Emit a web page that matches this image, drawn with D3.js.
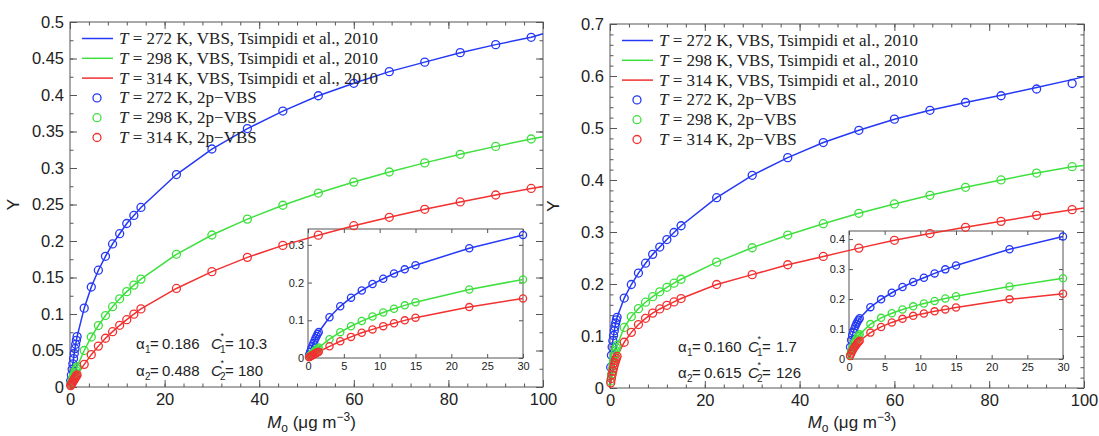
<!DOCTYPE html>
<html>
<head>
<meta charset="utf-8">
<script src="https://cdn.jsdelivr.net/npm/d3@7"></script>
<style>
  body { margin: 0; background: #fff; }
  svg text { fill: #222; }
</style>
</head>
<body>
<svg id="chart" width="1099" height="436"></svg>
<script>
// organic aerosol mass (µg m^-3) where the 2p-VBS points sit
const moPts = [0.15, 0.3, 0.45, 0.6, 0.75, 0.9, 1.05, 1.2, 1.35, 1.5,
  3, 4.5, 6, 7.5, 9, 10.5, 12, 13.5, 15,
  22.5, 30, 37.5, 45, 52.5, 60, 67.5, 75, 82.5, 90, 97.5];
// grid of the VBS (Tsimpidi) curves
const moLine = [0, 0.15, 0.3, 0.45, 0.6, 0.75, 0.9, 1.05, 1.2, 1.35, 1.5,
  3, 4.5, 6, 7.5, 9, 10.5, 12, 13.5, 15,
  22.5, 30, 37.5, 45, 52.5, 60, 67.5, 75, 82.5, 90, 97.5, 100];

// left panel
const ptsA272 = [0.0085, 0.0165, 0.0243, 0.0317, 0.039, 0.046, 0.0525, 0.0585, 0.064, 0.069,
  0.108, 0.137, 0.16, 0.179, 0.196, 0.21, 0.224, 0.235, 0.246,
  0.291, 0.326, 0.354, 0.378, 0.399, 0.416, 0.432, 0.445, 0.458, 0.469, 0.479];
const ptsA298 = [0.0031, 0.0061, 0.009, 0.0119, 0.0147, 0.0174, 0.02, 0.0227, 0.0252, 0.0277,
  0.05, 0.0685, 0.0842, 0.0979, 0.11, 0.1208, 0.1306, 0.1396, 0.1478,
  0.1818, 0.2082, 0.23, 0.249, 0.2657, 0.2807, 0.2945, 0.307, 0.3188, 0.3296, 0.3397];
const ptsA314 = [0.0019, 0.0037, 0.0054, 0.0071, 0.0088, 0.0104, 0.012, 0.0136, 0.0151, 0.0166,
  0.031, 0.0443, 0.056, 0.0668, 0.0758, 0.0845, 0.0922, 0.0998, 0.107,
  0.135, 0.158, 0.1776, 0.194, 0.208, 0.221, 0.2325, 0.2434, 0.2535, 0.263, 0.272];
const lineA272 = [0, 0.0085, 0.0165, 0.0243, 0.0317, 0.039, 0.046, 0.0525, 0.0585, 0.064, 0.069,
  0.108, 0.137, 0.16, 0.179, 0.196, 0.21, 0.224, 0.235, 0.246,
  0.291, 0.326, 0.354, 0.378, 0.399, 0.416, 0.432, 0.445, 0.458, 0.469, 0.479, 0.484];
const lineA298 = [0, 0.0031, 0.0061, 0.009, 0.0119, 0.0147, 0.0174, 0.02, 0.0227, 0.0252, 0.0277,
  0.05, 0.0685, 0.0842, 0.0979, 0.11, 0.1208, 0.1306, 0.1396, 0.1478,
  0.1818, 0.2082, 0.23, 0.249, 0.2657, 0.2807, 0.2945, 0.307, 0.3188, 0.3296, 0.3397, 0.3429];
const lineA314 = [0, 0.0019, 0.0037, 0.0054, 0.0071, 0.0088, 0.0104, 0.012, 0.0136, 0.0151, 0.0166,
  0.031, 0.0443, 0.056, 0.0668, 0.0758, 0.0845, 0.0922, 0.0998, 0.107,
  0.135, 0.158, 0.1776, 0.194, 0.208, 0.221, 0.2325, 0.2434, 0.2535, 0.263, 0.272, 0.2745];

// right panel
const ptsB272 = [0.04, 0.063, 0.079, 0.091, 0.101, 0.11, 0.118, 0.125, 0.131, 0.136,
  0.173, 0.199, 0.221, 0.24, 0.257, 0.271, 0.2855, 0.299, 0.312,
  0.366, 0.409, 0.443, 0.472, 0.4956, 0.517, 0.534, 0.549, 0.562, 0.575, 0.5856];
const ptsB298 = [0.0137, 0.0255, 0.0357, 0.0447, 0.0526, 0.0597, 0.0662, 0.072, 0.0773, 0.0822,
  0.1164, 0.1373, 0.1526, 0.165, 0.1756, 0.185, 0.1936, 0.2016, 0.2091,
  0.242, 0.2697, 0.2941, 0.316, 0.3359, 0.354, 0.3706, 0.386, 0.4001, 0.4133, 0.4256];
const ptsB314 = [0.0099, 0.0184, 0.0259, 0.0325, 0.0384, 0.0437, 0.0487, 0.0531, 0.0572, 0.061,
  0.088, 0.107, 0.122, 0.134, 0.144, 0.152, 0.159, 0.1655, 0.172,
  0.199, 0.218, 0.237, 0.253, 0.269, 0.284, 0.297, 0.309, 0.3205, 0.332, 0.343];
const lineB272 = [0, 0.04, 0.063, 0.079, 0.091, 0.101, 0.11, 0.118, 0.125, 0.131, 0.136,
  0.173, 0.199, 0.221, 0.24, 0.257, 0.271, 0.2855, 0.299, 0.312,
  0.366, 0.409, 0.443, 0.472, 0.4956, 0.517, 0.534, 0.549, 0.563, 0.578, 0.593, 0.599];
const lineB298 = [0, 0.0137, 0.0255, 0.0357, 0.0447, 0.0526, 0.0597, 0.0662, 0.072, 0.0773, 0.0822,
  0.1164, 0.1373, 0.1526, 0.165, 0.1756, 0.185, 0.1936, 0.2016, 0.2091,
  0.242, 0.2697, 0.2941, 0.316, 0.3359, 0.354, 0.3706, 0.386, 0.4001, 0.4133, 0.4256, 0.428];
const lineB314 = [0, 0.0099, 0.0184, 0.0259, 0.0325, 0.0384, 0.0437, 0.0487, 0.0531, 0.0572, 0.061,
  0.088, 0.107, 0.122, 0.134, 0.144, 0.152, 0.159, 0.1655, 0.172,
  0.199, 0.218, 0.237, 0.253, 0.269, 0.284, 0.297, 0.309, 0.3205, 0.332, 0.343, 0.346];

const temps = ["272", "298", "314"];
const colors = ["#2438f5", "#3ee03e", "#f23030"];
const lineSuffix = " K, VBS, Tsimpidi et al., 2010";
const ptSuffix = " K, 2p\u2212VBS";

const alphaA = ["0.186", "0.488"], cStarA = ["10.3", "180"];
const alphaB = ["0.160", "0.615"], cStarB = ["1.7", "126"];

const xTicks = [0, 20, 40, 60, 80, 100];
const yTicksA = [0, 0.05, 0.1, 0.15, 0.2, 0.25, 0.3, 0.35, 0.4, 0.45, 0.5];
const yTicksB = [0, 0.1, 0.2, 0.3, 0.4, 0.5, 0.6, 0.7];
const insetXTicks = [0, 5, 10, 15, 20, 25, 30];
const insetYTicksA = [0, 0.1, 0.2, 0.3];
const insetYTicksB = [0, 0.1, 0.2, 0.3, 0.4];

const svg = d3.select("#chart");
const sans = "'Liberation Sans', Arial, Helvetica, sans-serif";
const serif = "'Liberation Serif', 'Times New Roman', serif";
const fmt = d => d === 0 ? "0" : String(+d.toFixed(2));

// inward ticks on all four sides, MATLAB style
function boxAxes(g, x, y, o) {
  const [x0, x1] = x.range(), [y1, y0] = y.range();
  const sides = [
    [d3.axisBottom(x), `translate(0,${y1})`, o.xTicks, o.xMinor, true],
    [d3.axisTop(x), `translate(0,${y0})`, o.xTicks, o.xMinor, false],
    [d3.axisLeft(y), `translate(${x0},0)`, o.yTicks, o.yMinor, true],
    [d3.axisRight(y), `translate(${x1},0)`, o.yTicks, o.yMinor, false]
  ];
  sides.forEach(([ax, tr, major, minor, labels]) => {
    if (minor) {
      const mg = g.append("g").attr("transform", tr)
        .call(ax.tickValues(minor).tickSize(-o.minorLen).tickFormat(""));
      mg.select(".domain").remove();
      mg.selectAll("line").attr("stroke", "#555");
    }
    const a = g.append("g").attr("transform", tr)
      .call(ax.tickValues(major).tickSize(-o.majorLen).tickPadding(labels ? o.pad : 0)
        .tickFormat(labels ? fmt : ""));
    a.select(".domain").remove();
    a.selectAll("line").attr("stroke", "#555");
    a.selectAll("text").attr("font-family", sans).attr("font-size", o.font).attr("fill", "#222");
  });
  g.append("rect").attr("x", x0).attr("y", y0).attr("width", x1 - x0).attr("height", y1 - y0)
    .attr("fill", "none").attr("stroke", "#555").attr("stroke-width", 1);
}

function drawSeries(g, x, y, lines, pts, xmax, r) {
  const line = d3.line().x(d => x(d[0])).y(d => y(d[1]));
  lines.forEach((vals, i) => {
    const data = moLine.map((m, j) => [m, vals[j]]).filter(d => d[0] <= xmax);
    g.append("path").datum(data).attr("d", line)
      .attr("fill", "none").attr("stroke", colors[i]).attr("stroke-width", 1.5);
  });
  pts.forEach((vals, i) => {
    g.selectAll(null).data(moPts.map((m, j) => [m, vals[j]]).filter(d => d[0] <= xmax))
      .join("circle")
      .attr("cx", d => x(d[0])).attr("cy", d => y(d[1])).attr("r", r)
      .attr("fill", "none").attr("stroke", colors[i]).attr("stroke-width", 1.3);
  });
}

function drawPanel(p) {
  const g = svg.append("g");
  const x = d3.scaleLinear().domain([0, 100]).range([p.left, p.right]);
  const y = d3.scaleLinear().domain([0, p.yMax]).range([p.bottom, p.top]);

  boxAxes(g, x, y, {
    xTicks: xTicks, xMinor: d3.range(0, 101, 4),
    yTicks: p.yTicks, yMinor: d3.range(0, p.yMax + 1e-9, p.yMinorStep),
    majorLen: 7, minorLen: 3.5, pad: p.pad, font: "16.5px"
  });

  // inset, x up to 30
  const ix = d3.scaleLinear().domain([0, 30]).range([p.inset.left, p.inset.right]);
  const iy = d3.scaleLinear().domain([0, p.inset.yMax]).range([p.inset.bottom, p.inset.top]);
  boxAxes(g, ix, iy, {
    xTicks: insetXTicks, yTicks: p.inset.yTicks,
    majorLen: 4, minorLen: 2, pad: 4, font: "11px"
  });
  drawSeries(g, ix, iy, p.lines, p.pts, 30, 3.6);

  // main curves
  drawSeries(g, x, y, p.lines, p.pts, 100, 4);

  // legend
  const lg = g.append("g");
  [...temps, ...temps].forEach((t, i) => {
    const cy = p.legTop + i * 19.8;
    const c = colors[i % 3];
    if (i < 3) {
      lg.append("line").attr("x1", p.legX).attr("x2", p.legX + 31)
        .attr("y1", cy).attr("y2", cy).attr("stroke", c).attr("stroke-width", 1.5);
    } else {
      lg.append("circle").attr("cx", p.legX + 15).attr("cy", cy).attr("r", 4)
        .attr("fill", "none").attr("stroke", c).attr("stroke-width", 1.3);
    }
    const tx = lg.append("text").attr("x", p.legX + 37).attr("y", cy + 5.5)
      .attr("font-family", serif).attr("font-size", "17px");
    tx.append("tspan").attr("font-style", "italic").text("T");
    tx.append("tspan").text(" = " + t + (i < 3 ? lineSuffix : ptSuffix));
  });

  // fitted parameters
  p.alpha.forEach((a, i) => {
    const by = p.annY[i];
    const [ax, avx, cx, cvx] = p.ann;
    const t = g.append("g").attr("font-family", sans);
    t.append("text").attr("x", ax).attr("y", by).attr("font-size", "15px").text("\u03b1");
    t.append("text").attr("x", ax + 9).attr("y", by + 4).attr("font-size", "10px").text(i + 1);
    t.append("text").attr("x", ax + 14).attr("y", by).attr("font-size", "15px").text("=");
    t.append("text").attr("x", avx).attr("y", by).attr("font-size", "15px").text(a);
    t.append("text").attr("x", cx).attr("y", by).attr("font-size", "15px")
      .attr("font-style", "italic").text("C");
    t.append("text").attr("x", cx + 9.5).attr("y", by - 10).attr("font-size", "9px").text("*");
    t.append("text").attr("x", cx + 9).attr("y", by + 4).attr("font-size", "10px").text(i + 1);
    t.append("text").attr("x", cx + 14).attr("y", by).attr("font-size", "15px").text("=");
    t.append("text").attr("x", cvx).attr("y", by).attr("font-size", "15px").text(p.cStar[i]);
  });

  // axis titles
  svg.append("text").attr("transform", `translate(${p.left - 51},${(p.top + p.bottom) / 2}) rotate(-90)`)
    .attr("text-anchor", "middle").attr("font-family", sans).attr("font-size", "17px").text("Y");
  const xl = svg.append("text").attr("x", (p.left + p.right) / 2 + 5).attr("y", 428)
    .attr("text-anchor", "middle").attr("font-family", sans).attr("font-size", "17px");
  xl.append("tspan").attr("font-style", "italic").text("M");
  xl.append("tspan").attr("font-size", "12px").attr("dy", 4).text("o");
  xl.append("tspan").attr("dy", -4).text(" (\u03bcg m");
  xl.append("tspan").attr("font-size", "12px").attr("dy", -7).text("\u22123");
  xl.append("tspan").attr("dy", 7).text(")");
}

drawPanel({
  left: 70, right: 543, top: 22, bottom: 387, yMax: 0.5, yTicks: yTicksA, yMinorStep: 0.025, pad: 6,
  lines: [lineA272, lineA298, lineA314], pts: [ptsA272, ptsA298, ptsA314],
  inset: { left: 308, right: 523, top: 229, bottom: 358, yMax: 0.342, yTicks: insetYTicksA },
  legX: 82, legTop: 38.5,
  alpha: alphaA, cStar: cStarA, ann: [136, 162, 211, 238], annY: [349, 376]
});
drawPanel({
  left: 610, right: 1084, top: 24, bottom: 388, yMax: 0.7, yTicks: yTicksB, yMinorStep: 0.02, pad: 6,
  lines: [lineB272, lineB298, lineB314], pts: [ptsB272, ptsB298, ptsB314],
  inset: { left: 849, right: 1063, top: 231, bottom: 359, yMax: 0.427, yTicks: insetYTicksB },
  legX: 622, legTop: 40.5,
  alpha: alphaB, cStar: cStarB, ann: [678, 704, 748, 776], annY: [352, 378]
});
</script>
</body>
</html>
